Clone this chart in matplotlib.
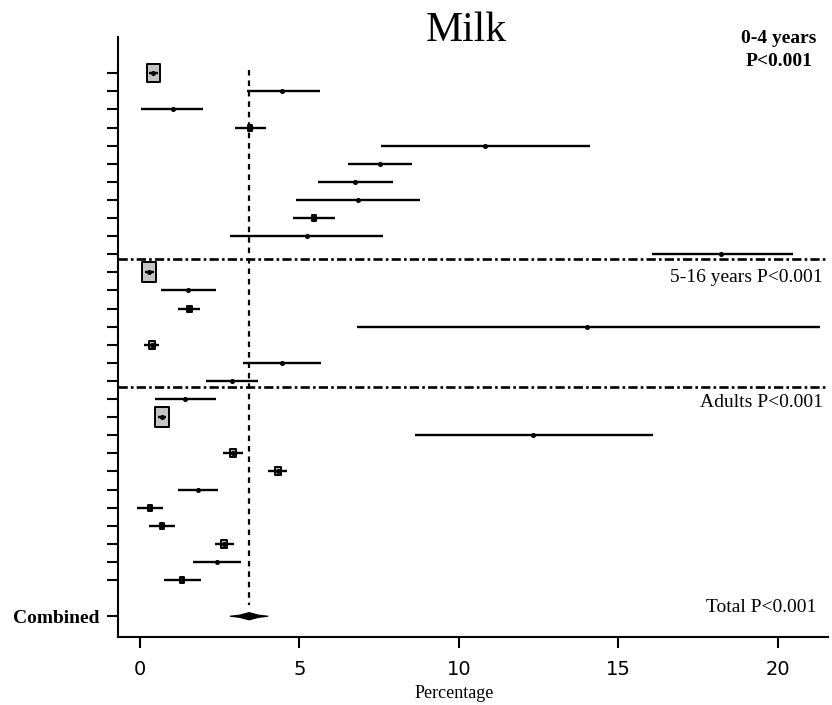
import matplotlib.pyplot as plt
import numpy as np
from matplotlib.path import Path

# forest plot values (percentage)
# rows 0-10: 0-4 years, rows 11-17: 5-16 years, rows 18-28: adults
est = [0.42, 4.45, 1.02, 3.45, 10.82, 7.52, 6.74, 6.84, 5.46, 5.22, 18.23,
       0.29, 1.49, 1.54, 14.02, 0.37, 4.44, 2.87,
       1.41, 0.68, 12.33, 2.92, 4.32, 1.81, 0.31, 0.68, 2.64, 2.40, 1.31]
lo = [0.28, 3.35, 0.02, 2.98, 7.57, 6.53, 5.59, 4.88, 4.81, 2.82, 16.04,
      0.16, 0.65, 1.18, 6.79, 0.12, 3.22, 2.07,
      0.47, 0.55, 8.62, 2.61, 4.02, 1.20, -0.10, 0.29, 2.35, 1.67, 0.76]
hi = [0.57, 5.64, 1.98, 3.94, 14.10, 8.54, 7.92, 8.78, 6.11, 7.61, 20.48,
      0.44, 2.38, 1.88, 21.32, 0.60, 5.69, 3.71,
      2.38, 0.82, 16.09, 3.22, 4.60, 2.45, 0.73, 1.10, 2.96, 3.17, 1.91]
# study weight -> box size
weight = [13, 0, 0, 4.5, 0, 0, 0, 0, 4, 0, 0,
          14.5, 0, 5, 0, 6, 0, 0,
          0, 14, 0, 6, 6, 0, 4.5, 4.5, 6, 0, 4]

# pooled estimate
pooled_est, pooled_lo, pooled_hi = 3.42, 2.82, 4.02
combined_row = 30
group_breaks = [10.27, 17.35]

group_text = ["0-4 years\nP<0.001", "5-16 years P<0.001", "Adults P<0.001", "Total P<0.001"]
group_text_y = [-1.3, 11.3, 18.2, 29.5]
group_text_x = [0.984, 0.993, 0.993, 0.984]

plt.rcParams['font.family'] = ['Liberation Serif', 'DejaVu Serif']

fig = plt.figure(figsize=(8.32, 7.05), dpi=100)
ax = fig.add_axes([118/832, 68.3/705, (828-118)/832, (636.7-37)/705])

rows = np.arange(len(est))

# tall rectangle marker for the weight boxes
box = Path([(-0.72, -1), (0.72, -1), (0.72, 1), (-0.72, 1), (-0.72, -1)],
           [Path.MOVETO, Path.LINETO, Path.LINETO, Path.LINETO, Path.CLOSEPOLY])

for i in rows:
    if weight[i] > 0:
        ax.plot(est[i], i, marker=box, markersize=weight[i], color="#c4c4c4",
                markeredgecolor="black", markeredgewidth=1.4, zorder=2)
    ax.plot([lo[i], hi[i]], [i, i], color="black", lw=1.7, solid_capstyle="butt", zorder=3)
    ax.plot(est[i], i, "o", color="black", markersize=2.6, zorder=4)

# overall line
ax.plot([pooled_est, pooled_est], [-0.2, 29.4], color="black", lw=1.6,
        linestyle=(0, (2.5, 2.2)), zorder=1)

# pooled diamond (slightly pinched)
h = 0.2
w = pooled_hi - pooled_lo
dx = [pooled_lo, pooled_est - 0.25*w, pooled_est, pooled_est + 0.25*w, pooled_hi,
      pooled_est + 0.25*w, pooled_est, pooled_est - 0.25*w]
dy = [combined_row, combined_row - 0.3*h, combined_row - h, combined_row - 0.3*h, combined_row,
      combined_row + 0.3*h, combined_row + h, combined_row + 0.3*h]
ax.fill(dx, dy, color="black", lw=0.8, zorder=4)

for yb in group_breaks:
    ax.axhline(yb, color="black", lw=1.9, linestyle=(0, (3.5, 1.2, 1.0, 1.2)), zorder=1)

ax.set_xlim(-0.69, 21.57)
ax.set_ylim(31.13, -2.0)

ax.spines["top"].set_visible(False)
ax.spines["right"].set_visible(False)
ax.spines["left"].set_linewidth(1.5)
ax.spines["bottom"].set_linewidth(1.5)

ax.set_yticks(list(rows) + [combined_row])
ax.set_yticklabels([""] * len(rows) + ["Combined"], fontsize=14, fontweight="bold")
ax.set_xticks([0, 5, 10, 15, 20])
ax.set_xticklabels(["0", "5", "10", "15", "20"], fontsize=14, family="DejaVu Sans")
ax.tick_params(axis="y", length=8, width=1.5, pad=5)
ax.tick_params(axis="x", length=8, width=1.5, pad=9)

ax.set_xlabel("Percentage", fontsize=13)
ax.xaxis.set_label_coords(0.473, -0.08)

tr = ax.get_yaxis_transform()
for t, x, y in zip(group_text, group_text_x, group_text_y):
    ax.text(x, y, t, transform=tr, ha="right", va="center", fontsize=14,
            fontweight="bold" if t.startswith("0-4") else "normal",
            multialignment="center", linespacing=1.45)

fig.text(0.56, 0.956, "Milk", ha="center", va="center", fontsize=30)

fig.savefig("out.png", dpi=100)
